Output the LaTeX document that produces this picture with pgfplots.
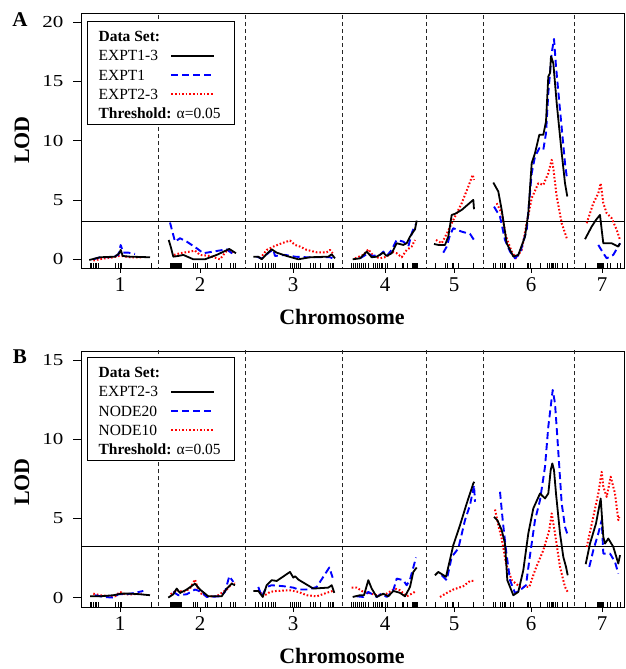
\documentclass[border=0pt]{standalone}
\usepackage{fontspec}
\setmainfont{Liberation Serif}
\usepackage{pgfplots}
\pgfplotsset{compat=1.18}

\tikzset{
  sA/.style={black, line width=1.8pt, line join=round, solid},
  sB/.style={color={rgb,255:red,0;green,0;blue,255}, line width=1.9pt, line join=round, dash pattern=on 7pt off 4pt},
  sC/.style={red, line width=2pt, line join=round, dash pattern=on 1.6pt off 2pt},
}

\pgfplotsset{
  lodaxis/.style={
    scale only axis, width=543pt, xmin=81, xmax=624,
    axis line style={line width=0.8pt},
    xtick={120,200,293,385,454,531,602}, xticklabels={1,2,3,4,5,6,7},
    xtick pos=lower, ytick pos=lower,
    tick align=outside,
    major tick length=5pt,
    x tick style={black, line width=0.9pt},
    y tick style={black, line width=0.8pt, /pgfplots/major tick length=8pt},
    minor tick num=0,
    extra x ticks={90,91.7,93.3,95,96.7,98.3,115,118.3,120,121.7,151.7,
      170,171,172,173,174,175,176,177,178,179,180,181.7,193,195,197,205,207,216.7,221.7,230,233,235,
      255,258,262,265,268,271.7,273,275,290,292,294,296,298,300,310,313,315,320,328,330,332,333,
      351.7,353,355,357,359,361,363,365,368,373,375,377,379,381,382,385,387,395,402,403,407,412,413,414,415,416,417,
      435,445,447,452,453,458,473,
      493,495,500,502,504,505,510,513,527,528,530,540,547,549,551,552,553,555,557,562,567,
      585,597,598,599,600,601,602,603,607,610,617,620},
    extra x tick labels={},
    extra x tick style={tick align=inside, tick style={line width=0.9pt}},
    unbounded coords=jump,
    /pgf/number format/assume math mode=true,
    xticklabel style={font=\fontsize{21}{24}\selectfont, yshift=-1pt},
    yticklabel style={font=\fontsize{21}{24}\selectfont, yscale=0.8, xshift=-9pt},
  },
}

\newcommand{\legline}[1]{\tikz[baseline=-5pt]\draw[#1] (0,0) -- (43pt,0);}

\begin{document}
\begin{tikzpicture}

% ---------------- Panel A ----------------
\begin{axis}[lodaxis, at={(81pt,401pt)}, anchor=south west, height=255pt,
  ymin=-0.734, ymax=20.76, ytick={0,5,10,15,20}]
\addplot[black!85, line width=0.6pt, dash pattern=on 4pt off 3pt] coordinates {
 (158,-1)(158,25) (158,nan) (245,-1)(245,25) (245,nan) (342,-1)(342,25) (342,nan)
 (426,-1)(426,25) (426,nan) (483,-1)(483,25) (483,nan) (574,-1)(574,25)};
\addplot[black, line width=0.8pt] coordinates {(81,3.23)(624,3.23)};
% EXPT2-3 (red dotted)
\addplot[sC] coordinates {
(93.3,-0.1)(103.3,0.06)(113.3,0.17)(119.3,0.28)(121.7,0.28)(130,0.17)(142,0.17) (142,nan)
(174,0.37)(180,0.51)(190,0.65)(195,0.73)(200,0.37)(210,0.28)(220,0)(226.7,0.73)(231.7,0.65)(234,0.51) (234,nan)
(260,0.06)(266.7,0.79)(273.3,1.07)(281.7,1.35)(290,1.58)(295,1.21)(300,1.07)(306.7,0.79)(316.7,0.59)(326.7,0.59)(330,0.79)(332.7,0.51) (332.7,nan)
(355,0.08)(363.3,0.37)(368.3,0.84)(373.3,0.28)(380,0.08)(386.7,0.22)(391.7,0.65)(396.7,0.51)(401.7,0.17)(406.7,0.79)(411.7,1.07)(415,1.63) (415,nan)
(436,1.63)(441.7,1.35)(446.7,2.14)(451.7,3.04)(456.7,3.88)(461.7,4.73)(468.3,6.13)(472.7,7.12)(474,6.69) (474,nan)
(496.7,4.73)(501.7,3.88)(506,1.91)(511.7,0.65)(516,0.08)(521.7,0.79)(526.7,3.04)(531.7,5.15)(538.3,6.41)(543.3,6.27)(548.3,7.26)(551.7,8.38)(553.3,7.68)(556.7,5.29)(561.7,3.04)(567.3,1.63) (567.3,nan)
(586.7,3.04)(593.3,4.73)(598.3,5.57)(600.7,6.41)(603.3,4.73)(606.7,3.88)(611.7,3.46)(616.7,2.48)(620,1.63)};
% EXPT1 (blue dashed)
\addplot[sB] coordinates {
(93.3,0)(100,0.17)(111.7,0.17)(118.3,0.37)(120.7,1.2)(123.3,0.56)(128.3,0.56)(135,0.45) (135,nan)
(170,3.1)(175,1.49)(180,1.77)(186.7,1.49)(196.7,0.93)(203.3,0.51)(213.3,0.65)(226.7,0.84)(234,0.37) (234,nan)
(256.7,0.22)(261.7,0.06)(270,0.65)(273.3,0.79)(275,0.28)(285,0.37)(295,0.22)(306.7,0.17)(330,0.17)(332.7,0.08) (332.7,nan)
(360,0.08)(368.3,0.51)(371.7,0.28)(380,0.37)(383.3,0.65)(386.7,0.28)(391.7,0.79)(396.7,1.63)(403.3,1.49)(408.3,1.07)(411.7,2.19)(415,2.9) (415,nan)
(443.3,0.56)(446.7,1.07)(450,2.05)(453.3,2.62)(461.7,2.33)(470,2.14)(474,1.63) (474,nan)
(494,4.44)(500,3.6)(505,1.63)(510,0.65)(515,0.08)(520,0.51)(526.7,2.48)(531.7,7.26)(535,8.66)(539.3,9.37)(543.3,9.23)(546,10.63)(548.3,14.0)(551.7,17.38)(554,18.57)(556,16.26)(560,12.6)(565,8.1)(566.7,6.98) (566.7,nan)
(598.3,1.21)(603.3,0.51)(606.7,0.08)(613.3,0.37)(620,1.35)};
% EXPT1-3 (black solid)
\addplot[sA] coordinates {
(89.3,-0.06)(100,0.17)(115,0.22)(119.3,0.51)(120.7,0.79)(122.7,0.28)(130,0.22)(150,0.17) (150,nan)
(168.7,1.63)(170.7,1.07)(173.3,0.22)(178.3,0.28)(183.3,0.37)(193.3,0)(205,0)(216.7,0.37)(229.3,0.87)(236,0.51) (236,nan)
(253.3,0.22)(258.3,0.22)(261.7,0)(266.7,0.45)(271.7,0.84)(276.7,0.56)(286.7,0.28)(298.3,0)(310,0.17)(328.3,0.22)(331.7,0.42)(335,0.08) (335,nan)
(352.7,0)(360,0.08)(366.7,0.65)(371.7,0.17)(376.7,0.22)(383.3,0.56)(386.7,0.28)(391.7,0.51)(396.7,1.35)(403.3,1.21)(406.7,1.35)(410,1.91)(415,2.53)(416.7,3.26) (416.7,nan)
(434,1.29)(438.3,1.21)(445,1.21)(448.3,1.91)(451.7,3.74)(455,3.83)(461.7,4.16)(473.3,5.01)(474,4.22) (474,nan)
(493.3,6.47)(498.3,5.71)(501.7,4.16)(506.7,1.35)(513.3,0.23)(518.3,0.37)(525,1.91)(528.3,3.88)(531.7,8.1)(535,8.95)(539.3,10.49)(543.3,10.49)(546,11.62)(548.3,15.41)(550,15.7)(551,17.1)(553.3,16.54)(556.7,13.16)(561.7,8.95)(565,6.41)(567.3,5.29) (567.3,nan)
(585,1.69)(591.7,2.76)(596,3.32)(600,3.74)(601.7,2.48)(603.3,1.35)(611.7,1.35)(618.3,1.07)(620,1.35)};
\end{axis}

% ---------------- Panel B ----------------
\begin{axis}[lodaxis, at={(81pt,62pt)}, anchor=south west, height=256pt,
  ymin=-0.594, ymax=15.57, ytick={0,5,10,15}]
\addplot[black!85, line width=0.6pt, dash pattern=on 4pt off 3pt] coordinates {
 (158,-1)(158,25) (158,nan) (245,-1)(245,25) (245,nan) (342,-1)(342,25) (342,nan)
 (426,-1)(426,25) (426,nan) (483,-1)(483,25) (483,nan) (574,-1)(574,25)};
\addplot[black, line width=0.8pt] coordinates {(81,3.24)(624,3.24)};
% NODE10 (red dotted)
\addplot[sC] coordinates {
(93.3,0.25)(100,0.15)(110,0.08)(115,0.08)(120,0.36)(125,0.21)(133.3,0.21)(141.7,0.25) (141.7,nan)
(170.7,0.21)(176.7,0.46)(183.3,0.36)(190,0.57)(195,1.14)(197.3,0.67)(200,0.29)(206.7,0.08)(216.7,0.08)(226.7,0.51)(232.7,0.93)(235,0.88) (235,nan)
(258.3,0.51)(263.3,0.08)(270,0.36)(276.7,0.42)(290,0.46)(298.3,0.36)(306.7,0.15)(316.7,0.08)(326.7,0.3)(332.7,0.42) (332.7,nan)
(351.7,0.63)(356.7,0.63)(363.3,0.36)(368.3,0.3)(376.7,0.15)(386.7,0.25)(395,0.57)(400,0.46)(406.7,0.08)(413.3,0.3)(416,0.42) (416,nan)
(440,0.04)(446.7,0.29)(453.3,0.51)(463.3,0.72)(470,1.05)(474,1.05) (474,nan)
(495,5.56)(498.3,4.57)(501.7,3.73)(506,2.15)(511.7,1.1)(520,0.67)(529.3,0.67)(535,1.73)(543.3,2.99)(549.3,4.26)(551.7,5.31)(555,4.05)(560,1.94)(565,0.67)(568.3,0.29) (568.3,nan)
(586.7,3.2)(593.3,5.1)(598.3,6.57)(601.7,7.94)(603.3,7.0)(606.7,6.36)(610.7,7.63)(615,6.57)(618.3,4.89)(619.3,5.1)};
% NODE20 (blue dashed)
\addplot[sB] coordinates {
(95,0.15)(103.3,0.04)(113.3,0)(118.3,0.21)(126.7,0.21)(135,0.3)(143.3,0.42) (143.3,nan)
(173.3,0.36)(178.3,0.15)(186.7,0.21)(195,0.51)(201.7,0.36)(206.7,0.04)(220,0.08)(225,0.36)(229.3,1.35)(233.3,0.99) (233.3,nan)
(258.3,0.67)(261.7,0.08)(266.7,0.67)(271.7,0.78)(283.3,0.72)(293.3,0.63)(298.3,0.51)(308.3,0.51)(316.7,0.67)(323.3,1.31)(329.3,1.9)(332.7,1.26) (332.7,nan)
(356.7,0.08)(363.3,0.04)(368.3,0.36)(376.7,0.04)(381.7,0.25)(386.7,0.04)(393.3,0.46)(396.7,1.2)(403.3,1.1)(406.7,0.78)(410,1.14)(416,2.53) (416,nan)
(441.7,1.41)(446.7,1.1)(451.7,2.57)(458.3,3.1)(465,4.89)(470,5.84)(474,7.1)(475,6.05) (475,nan)
(500,6.68)(502.7,4.89)(506,2.99)(510,1.1)(515,0.29)(520,0.46)(526,0.78)(529.3,2.36)(535,4.89)(540,6.15)(545,8.26)(548.3,10.79)(551.7,12.58)(552.7,13.11)(555,12.26)(557.3,10.16)(561.7,5.94)(565,4.47)(568.3,3.83) (568.3,nan)
(589.3,1.94)(593.3,2.99)(598.3,4.05)(601.7,4.89)(603.3,2.78)(610,2.78)(615,2.25)(618.3,1.52)};
% EXPT2-3 (black solid)
\addplot[sA] coordinates {
(90,0.08)(100,0.08)(113.3,0.15)(121.7,0.25)(130,0.25)(140,0.21)(150,0.15) (150,nan)
(168.3,0)(173.3,0.21)(176.7,0.57)(180,0.29)(186.7,0.51)(195,0.88)(200,0.51)(208.3,0.08)(221.7,0.08)(226.7,0.57)(231.7,0.88)(235,0.78) (235,nan)
(253.3,0.42)(258.3,0.42)(262.7,0.04)(266.7,0.78)(271.7,1.1)(276.7,1.05)(290,1.62)(293.3,1.26)(295,1.35)(298.3,1.14)(313.3,0.57)(328.3,0.63)(331.7,0.78)(334.3,0.3) (334.3,nan)
(352.7,0.04)(360,0.15)(364,0.15)(368.3,1.1)(371.7,0.57)(376.7,0.04)(383.3,0.25)(388.3,0.08)(393.3,0.42)(400,0.3)(405,0.08)(410,0.67)(413.3,1.62)(416.7,1.9) (416.7,nan)
(435,1.41)(438.3,1.62)(446,1.31)(448.3,1.94)(453.3,3.31)(460,4.57)(466.7,5.94)(473.3,7.21)(474.3,7.31) (474.3,nan)
(494,5.1)(497.3,4.89)(501.7,4.26)(505,3.41)(507.3,1.1)(513.3,0.15)(518.3,0.36)(523.3,1.73)(528.3,4.05)(533.3,5.63)(540,6.57)(545,6.26)(548.3,6.57)(550.7,8.05)(552.3,8.47)(554,8.05)(556,6.57)(560,4.05)(563.3,2.57)(566,1.94)(567.7,1.41) (567.7,nan)
(585.7,2.11)(590,3.41)(596,4.68)(600.7,6.26)(603.3,3.83)(605,3.41)(608.3,3.73)(613.3,3.2)(618.3,2.15)(620,2.68)};
\end{axis}

% ---------------- Labels ----------------
\node[font=\bfseries\fontsize{21}{24}\selectfont] at (20pt,649pt) {A};
\node[font=\bfseries\fontsize{21}{24}\selectfont] at (20pt,312pt) {B};
\node[rotate=90, font=\bfseries\fontsize{22}{24}\selectfont] at (22pt,529pt) {LOD};
\node[rotate=90, font=\bfseries\fontsize{22}{24}\selectfont] at (22pt,187pt) {LOD};
\node[font=\bfseries\fontsize{22}{24}\selectfont] at (342pt,352pt) {Chromosome};
\node[font=\bfseries\fontsize{22}{24}\selectfont] at (342pt,13pt) {Chromosome};

% ---------------- Legends ----------------
\node[draw, fill=white, line width=1.2pt, anchor=north west, inner xsep=11pt, inner ysep=0pt] at (87pt,648pt) {%
 \fontsize{15.5}{19.3}\selectfont
 \begin{tabular}{@{}l@{}l@{\hspace{8pt}}}
 \multicolumn{2}{@{}l@{}}{\rule{0pt}{20pt}\textbf{Data Set:}}\\
 \makebox[71.7pt][l]{EXPT1-3} & \legline{sA}\\
 \makebox[71.7pt][l]{EXPT1} & \legline{sB}\\
 \makebox[71.7pt][l]{EXPT2-3} & \legline{sC}\\
 \multicolumn{2}{@{}l@{}}{\textbf{Threshold:} α=0.05}
 \end{tabular}};
\node[draw, fill=white, line width=1.2pt, anchor=north west, inner xsep=11pt, inner ysep=0pt] at (87pt,312pt) {%
 \fontsize{15.5}{19.3}\selectfont
 \begin{tabular}{@{}l@{}l@{\hspace{8pt}}}
 \multicolumn{2}{@{}l@{}}{\rule{0pt}{20pt}\textbf{Data Set:}}\\
 \makebox[71.7pt][l]{EXPT2-3} & \legline{sA}\\
 \makebox[71.7pt][l]{NODE20} & \legline{sB}\\
 \makebox[71.7pt][l]{NODE10} & \legline{sC}\\
 \multicolumn{2}{@{}l@{}}{\textbf{Threshold:} α=0.05}
 \end{tabular}};

\pgfresetboundingbox
\useasboundingbox (0,0) rectangle (625pt,669pt);
\end{tikzpicture}
\end{document}
